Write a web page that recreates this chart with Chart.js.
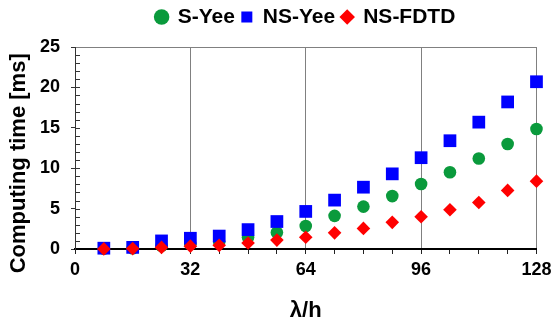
<!DOCTYPE html>
<html>
<head>
<meta charset="utf-8">
<script src="https://cdn.jsdelivr.net/npm/chart.js@4.4.0/dist/chart.umd.min.js"></script>
<style>
  html, body { margin: 0; padding: 0; background: #fff; }
  #wrap { width: 557px; height: 320px; }
</style>
</head>
<body>
<div id="wrap"><canvas id="grafico" width="557" height="320"></canvas></div>
<script>
// dados
const lambdaH = [8, 16, 24, 32, 40, 48, 56, 64, 72, 80, 88, 96, 104, 112, 120, 128];
const sYee   = [0.05, 0.1, 0.4, 0.6, 0.9, 1.45, 2.05, 2.85, 4.1, 5.25, 6.55, 8.05, 9.5, 11.2, 13.0, 14.85];
const nsYee  = [0.1, 0.2, 1.0, 1.33, 1.6, 2.4, 3.4, 4.65, 6.05, 7.65, 9.3, 11.3, 13.4, 15.7, 18.2, 20.7];
const nsFdtd = [0.01, 0.05, 0.2, 0.35, 0.45, 0.75, 1.1, 1.45, 2.0, 2.55, 3.3, 4.0, 4.85, 5.75, 7.25, 8.4];
const xTicks = [0, 32, 64, 96, 128];
const yTicks = [0, 5, 10, 15, 20, 25];

function pontos(valores) {
    return lambdaH.map((x, i) => ({ x: x, y: valores[i] }));
}

// marcas internas do eixo y (de 1 em 1)
const marcasMenores = {
    id: 'marcasMenores',
    afterDraw(chart) {
        const ctx = chart.ctx;
        const y = chart.scales.y;
        const left = chart.chartArea.left;
        ctx.save();
        ctx.strokeStyle = '#333';
        ctx.lineWidth = 1;
        for (let v = 1; v < 25; v++) {
            const py = Math.round(y.getPixelForValue(v)) + 0.5;
            ctx.beginPath();
            ctx.moveTo(left, py);
            ctx.lineTo(left + 5, py);
            ctx.stroke();
        }
        ctx.restore();
    }
};

const fonte = { family: 'Liberation Sans, Arial, sans-serif', weight: 'bold' };

new Chart(document.getElementById('grafico'), {
    type: 'scatter',
    data: {
        datasets: [
            {
                label: 'S-Yee',
                data: pontos(sYee),
                pointStyle: 'circle',
                pointRadius: 6.3,
                backgroundColor: '#0a9a3c',
                borderColor: '#0a9a3c',
                borderWidth: 0,
                order: 3,
                clip: false
            },
            {
                label: 'NS-Yee',
                data: pontos(nsYee),
                pointStyle: 'rect',
                pointRadius: 9,
                backgroundColor: '#0000ff',
                borderColor: '#0000ff',
                borderWidth: 0,
                order: 2,
                clip: false
            },
            {
                label: 'NS-FDTD',
                data: pontos(nsFdtd),
                pointStyle: 'rectRot',
                pointRadius: 6.8,
                backgroundColor: '#ff0000',
                borderColor: '#ff0000',
                borderWidth: 0,
                order: 1,
                clip: false
            }
        ]
    },
    options: {
        responsive: false,
        animation: false,
        events: [],
        layout: { padding: 0 },
        plugins: {
            tooltip: { enabled: false },
            legend: {
                position: 'top',
                fullSize: false,
                labels: {
                    usePointStyle: true,
                    boxWidth: 11,
                    boxHeight: 11,
                    padding: 6.5,
                    color: '#000',
                    font: { ...fonte, size: 21 },
                    sort: (a, b) => a.datasetIndex - b.datasetIndex
                }
            }
        },
        scales: {
            // eixo vazio só para dar espaço entre a legenda e o gráfico
            topo: {
                type: 'linear',
                position: 'top',
                min: 0,
                max: 128,
                grid: { display: false },
                ticks: { display: false },
                border: { display: false },
                afterFit: (s) => { s.height = 9.5; }
            },
            x: {
                type: 'linear',
                min: 0,
                max: 128,
                afterBuildTicks: (scale) => {
                    scale.ticks = [0].concat(lambdaH).map(v => ({ value: v }));
                },
                afterFit: (s) => { s.height = 71; },
                ticks: {
                    autoSkip: false,
                    maxRotation: 0,
                    color: '#000',
                    font: { ...fonte, size: 18 },
                    padding: 5.5,
                    callback: (v) => xTicks.includes(v) ? v : ''
                },
                grid: {
                    color: (c) => (c.tick && [32, 64, 96, 128].includes(c.tick.value)) ? '#808080' : 'rgba(0,0,0,0)',
                    lineWidth: 1,
                    tickColor: '#222',
                    tickLength: 5
                },
                border: { color: '#000', width: 2 },
                title: {
                    display: true,
                    text: 'λ/h',
                    color: '#000',
                    font: { ...fonte, size: 22, lineHeight: 0.8 },
                    padding: 0
                }
            },
            y: {
                min: 0,
                max: 25,
                afterBuildTicks: (scale) => {
                    scale.ticks = yTicks.map(v => ({ value: v }));
                },
                afterFit: (s) => { s.width = 75; },
                ticks: {
                    autoSkip: false,
                    color: '#000',
                    font: { ...fonte, size: 18 },
                    padding: 11,
                    callback: (v) => v
                },
                grid: {
                    color: (c) => (c.tick && c.tick.value === 25) ? '#808080' : 'rgba(0,0,0,0)',
                    lineWidth: 1,
                    tickColor: '#333',
                    tickLength: 4
                },
                border: { color: '#333', width: 1 },
                title: {
                    display: true,
                    text: 'Computing time [ms]\u00a0\u00a0\u00a0\u00a0\u00a0',
                    color: '#000',
                    font: { ...fonte, size: 22 },
                    padding: { top: 6, bottom: 0 }
                }
            }
        }
    },
    plugins: [marcasMenores]
});
</script>
</body>
</html>
